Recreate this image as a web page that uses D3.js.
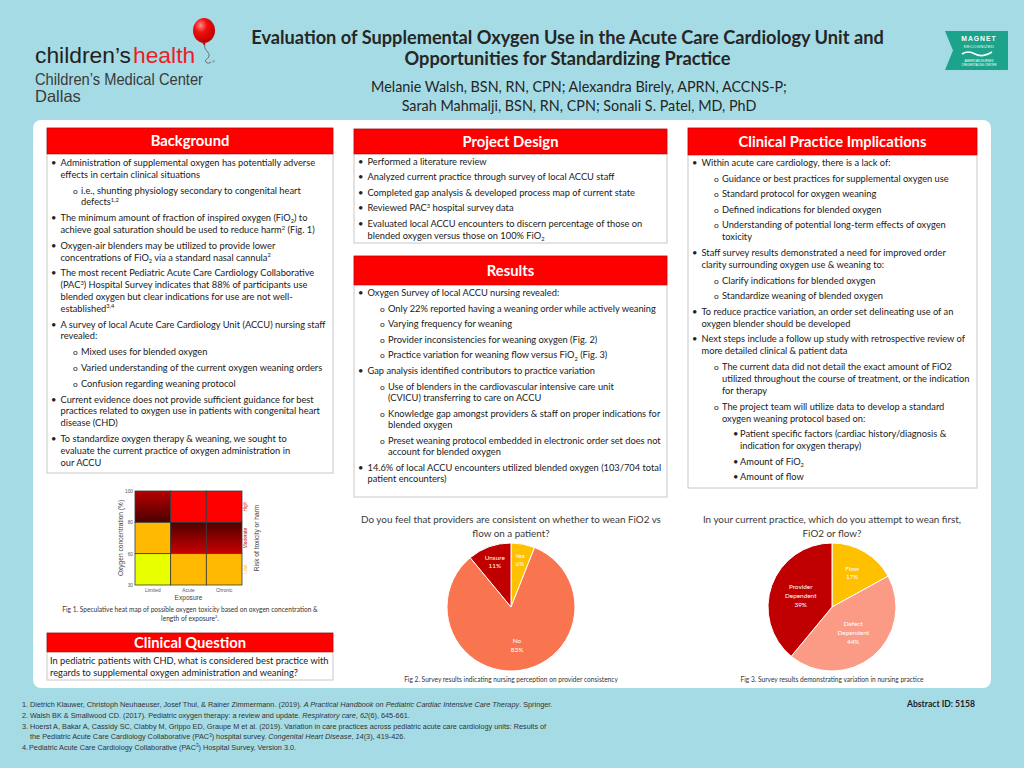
<!DOCTYPE html>
<html><head><meta charset="utf-8">
<script src="https://cdn.jsdelivr.net/npm/d3@7"></script>
<style>body{margin:0;background:#a5dbe5}svg{display:block}</style>
</head><body>
<svg id="c" width="1024" height="768"></svg>
<script>
// ---------------- DATA ----------------
const titleLines = ["Evaluation of Supplemental Oxygen Use in the Acute Care Cardiology Unit and",
                    "Opportunities for Standardizing Practice"];
const authorLines = ["Melanie Walsh, BSN, RN, CPN; Alexandra Birely, APRN, ACCNS-P;",
                     "Sarah Mahmalji, BSN, RN, CPN; Sonali S. Patel, MD, PhD"];

const backgroundItems = [
 [0,"Administration of supplemental oxygen has potentially adverse","effects in certain clinical situations"],
 [1,"i.e., shunting physiology secondary to congenital heart","defects^{1,2}"],
 [0,"The minimum amount of fraction of inspired oxygen (FiO_{2}) to","achieve goal saturation should be used to reduce harm^{2} (Fig. 1)"],
 [0,"Oxygen-air blenders may be utilized to provide lower","concentrations of FiO_{2} via a standard nasal cannula^{2}"],
 [0,"The most recent Pediatric Acute Care Cardiology Collaborative","(PAC^{3}) Hospital Survey indicates that 88% of participants use","blended oxygen but clear indications for use are not well-","established^{3,4}"],
 [0,"A survey of local Acute Care Cardiology Unit (ACCU) nursing staff","revealed:"],
 [1,"Mixed uses for blended oxygen"],
 [1,"Varied understanding of the current oxygen weaning orders"],
 [1,"Confusion regarding weaning protocol"],
 [0,"Current evidence does not provide sufficient guidance for best","practices related to oxygen use in patients with congenital heart","disease (CHD)"],
 [0,"To standardize oxygen therapy & weaning, we sought to","evaluate the current practice of oxygen administration in","our ACCU"]
];
const projectItems = [
 [0,"Performed a literature review"],
 [0,"Analyzed current practice through survey of local ACCU staff"],
 [0,"Completed gap analysis & developed process map of current state"],
 [0,"Reviewed PAC^{3} hospital survey data"],
 [0,"Evaluated local ACCU encounters to discern percentage of those on","blended oxygen versus those on 100% FiO_{2}"]
];
const resultsItems = [
 [0,"Oxygen Survey of local ACCU nursing revealed:"],
 [1,"Only 22% reported having a weaning order while actively weaning"],
 [1,"Varying frequency for weaning"],
 [1,"Provider inconsistencies for weaning oxygen (Fig. 2)"],
 [1,"Practice variation for weaning flow versus FiO_{2} (Fig. 3)"],
 [0,"Gap analysis identified contributors to practice variation"],
 [1,"Use of blenders in the cardiovascular intensive care unit","(CVICU) transferring to care on ACCU"],
 [1,"Knowledge gap amongst providers & staff on proper indications for","blended oxygen"],
 [1,"Preset weaning protocol embedded in electronic order set does not","account for blended oxygen"],
 [0,"14.6% of local ACCU encounters utilized blended oxygen (103/704 total","patient encounters)"]
];
const cpiItems = [
 [0,"Within acute care cardiology, there is a lack of:"],
 [1,"Guidance or best practices for supplemental oxygen use"],
 [1,"Standard protocol for oxygen weaning"],
 [1,"Defined indications for blended oxygen"],
 [1,"Understanding of potential long-term effects of oxygen","toxicity"],
 [0,"Staff survey results demonstrated a need for improved order","clarity surrounding oxygen use & weaning to:"],
 [1,"Clarify indications for blended oxygen"],
 [1,"Standardize weaning of blended oxygen"],
 [0,"To reduce practice variation, an order set delineating use of an","oxygen blender should be developed"],
 [0,"Next steps include a follow up study with retrospective review of","more detailed clinical & patient data"],
 [1,"The current data did not detail the exact amount of FiO2","utilized throughout the course of treatment, or the indication","for therapy"],
 [1,"The project team will utilize data to develop a standard","oxygen weaning protocol based on:"],
 [2,"Patient specific factors (cardiac history/diagnosis &","indication for oxygen therapy)"],
 [2,"Amount of FiO_{2}"],
 [2,"Amount of flow"]
];
const questionLines = ["In pediatric patients with CHD, what is considered best practice with",
                       "regards to supplemental oxygen administration and weaning?"];

// Heat map (Fig 1)
const heatExposure = ["Limited","Acute","Chronic"];
const heatRows = ["80-100","60-80","30-60"];
const heatTicks = ["100","80","60","30"];
const heatRisk = [
  ["modHigh","high","high"],
  ["low","moderate","moderate"],
  ["veryLow","low","low"]
];
const riskLabels = ["High","Moderate","Low"];

// Pie charts
const pie1Title = ["Do you feel that providers are consistent on whether to wean FiO2 vs","flow on a patient?"];
const pie1Labels = ["Yes","No","Unsure"];
const pie1Values = [6,83,11];
const pie2Title = ["In your current practice, which do you attempt to wean first,","FiO2 or flow?"];
const pie2Labels = ["Flow","Defect Dependent","Provider Dependent"];
const pie2Values = [17,44,39];

const captions = {
  fig1: ["Fig 1. Speculative heat map of possible oxygen toxicity based on oxygen concentration &","length of exposure^{2}."],
  fig2: "Fig 2. Survey results indicating nursing perception on provider consistency",
  fig3: "Fig 3. Survey results demonstrating variation in nursing practice"
};
const refs = [
 ["1.","Dietrich Klauwer, Christoph Neuhaeuser, Josef Thul, & Rainer Zimmermann. (2019). *A Practical Handbook on Pediatric Cardiac Intensive Care Therapy*. Springer."],
 ["2.","Walsh BK & Smallwood CD. (2017). Pediatric oxygen therapy: a review and update. *Respiratory care*, *62*(6), 645-661."],
 ["3.","Hoerst A, Bakar A, Cassidy SC, Clabby M, Grippo ED, Graupe M et al. (2019). Variation in care practices across pediatric acute care cardiology units: Results of"],
 ["","the Pediatric Acute Care Cardiology Collaborative (PAC^{3}) hospital survey. *Congenital Heart Disease*, *14*(3), 419-426."],
 ["4.","Pediatric Acute Care Cardiology Collaborative (PAC^{3}) Hospital Survey, Version 3.0."]
];

// ---------------- HELPERS ----------------
const svg = d3.select("#c");
const BODY = "Lato, 'Open Sans', sans-serif";
const ARIAL = "'Liberation Sans', Arial, sans-serif";
svg.append("rect").attr("width",1024).attr("height",768).attr("fill","#a5dbe5");

function plain(s){ return s.replace(/\^\{([^}]*)\}/g,"$1").replace(/_\{([^}]*)\}/g,"$1").replace(/\*/g,""); }
function fit(str, target, family, weight){
  const t = svg.append("text").attr("font-family",family).attr("font-weight",weight||"normal")
    .attr("font-size",100).text(plain(str));
  const w = t.node().getComputedTextLength(); t.remove();
  return 100*target/w;
}
function rich(textSel, str, size){
  const parts = str.split(/(\^\{[^}]*\}|_\{[^}]*\}|\*[^*]*\*)/).filter(s=>s.length);
  let shift = 0;
  parts.forEach(p=>{
    let target=0, fs=size, content=p, italic=false;
    if(p.startsWith("^{")){ target=-0.38*size; fs=0.62*size; content=p.slice(2,-1); }
    else if(p.startsWith("_{")){ target=0.22*size; fs=0.62*size; content=p.slice(2,-1); }
    else if(p.startsWith("*")){ content=p.slice(1,-1); italic=true; }
    const ts = textSel.append("tspan").attr("dy", target-shift).attr("font-size", fs).text(content);
    if(italic) ts.attr("font-style","italic");
    shift = target;
  });
  return textSel;
}

// ---------------- HEADER ----------------
const logo = svg.append("g");
const brandSize = fit("children’s", 96, ARIAL);
logo.append("text").attr("x",35).attr("y",63).attr("font-family",ARIAL).attr("font-size",brandSize)
  .attr("fill","#231f20").text("children’s");
logo.append("text").attr("x",133).attr("y",63).attr("font-family",ARIAL).attr("font-size",brandSize)
  .attr("fill","#ee1c25").text("health");
logo.append("text").attr("x",212).attr("y",63).attr("font-family",ARIAL).attr("font-size",4).attr("fill","#555").text("®");
const bal = svg.append("defs").append("radialGradient").attr("id","balg").attr("cx","35%").attr("cy","30%").attr("r","70%");
bal.append("stop").attr("offset","0%").attr("stop-color","#ff8a8a");
bal.append("stop").attr("offset","40%").attr("stop-color","#f01010");
bal.append("stop").attr("offset","100%").attr("stop-color","#c00000");
logo.append("path").attr("d","M205,44 C203,50 210,52 209,56 C208,60 204,59 206,62 C207,64 210,63 211,62")
  .attr("fill","none").attr("stroke","#555").attr("stroke-width",0.8);
logo.append("ellipse").attr("cx",204).attr("cy",30.5).attr("rx",11).attr("ry",12.5).attr("fill","url(#balg)");
logo.append("path").attr("d","M202.5,43 L205.5,43 L204,45.5 Z").attr("fill","#c00000");
logo.append("text").attr("x",35).attr("y",85).attr("font-family",ARIAL).attr("font-size",16.5)
  .attr("fill","#3a3a3a").attr("textLength",168).attr("lengthAdjust","spacingAndGlyphs").text("Children’s Medical Center");
logo.append("text").attr("x",35).attr("y",101.5).attr("font-family",ARIAL).attr("font-size",16.5)
  .attr("fill","#3a3a3a").text("Dallas");

const titleSize = fit(titleLines[0], 633, BODY, "bold");
titleLines.forEach((l,i)=>svg.append("text").attr("x",567.5).attr("y",44+i*21).attr("text-anchor","middle")
  .attr("font-family",BODY).attr("font-weight","bold").attr("font-size",titleSize).attr("fill","#262626").text(l));
const authSize = fit(authorLines[0], 416, BODY, "normal");
authorLines.forEach((l,i)=>svg.append("text").attr("x",579).attr("y",91.5+i*19).attr("text-anchor","middle")
  .attr("font-family",BODY).attr("font-size",authSize).attr("fill","#262626").text(l));

// Magnet badge
const mg = svg.append("g");
mg.append("path").attr("d","M945,31 L1008,31 L1008,70 L945,70 L953,50.5 Z").attr("fill","#1ba38c");
mg.append("text").attr("x",979).attr("y",41).attr("text-anchor","middle").attr("font-family",ARIAL)
  .attr("font-weight","bold").attr("font-size",6.8).attr("fill","#fff").attr("letter-spacing",1).text("MAGNET");
mg.append("text").attr("x",979).attr("y",47.5).attr("text-anchor","middle").attr("font-family",ARIAL)
  .attr("font-size",4).attr("fill","#fff").attr("letter-spacing",0.4).text("RECOGNIZED");
mg.append("path").attr("d","M962,54 Q968,50 975,54 T992,52").attr("fill","none").attr("stroke","#fff").attr("stroke-width",1.6);
mg.append("text").attr("x",979).attr("y",61.5).attr("text-anchor","middle").attr("font-family",ARIAL)
  .attr("font-size",3).attr("fill","#fff").text("AMERICAN NURSES");
mg.append("text").attr("x",979).attr("y",65.5).attr("text-anchor","middle").attr("font-family",ARIAL)
  .attr("font-size",2.8).attr("fill","#fff").text("CREDENTIALING CENTER");

// white panel
svg.append("rect").attr("x",33).attr("y",120).attr("width",958).attr("height",568).attr("rx",8).attr("fill","#ffffff");

// ---------------- TEXT BOXES ----------------
const bodySize = (fit(projectItems[4][1], 274, BODY) + fit(backgroundItems[0][1], 256, BODY))/2;
const headSize = fit("Clinical Practice Implications", 188, BODY, "bold");

function drawBox(cfg){
  const g = svg.append("g");
  g.append("rect").attr("x",cfg.x).attr("y",cfg.headY).attr("width",cfg.w).attr("height",cfg.bottom-cfg.headY)
    .attr("fill","#fff").attr("stroke","#c8c8c8").attr("stroke-width",1);
  g.append("rect").attr("x",cfg.x).attr("y",cfg.headY).attr("width",cfg.w).attr("height",cfg.headH)
    .attr("fill","#ff0000").attr("stroke","#b30000").attr("stroke-width",0.6);
  g.append("text").attr("x",cfg.x+cfg.w/2).attr("y",cfg.headY+cfg.headH/2+headSize*0.35)
    .attr("text-anchor","middle").attr("font-family",BODY).attr("font-weight","bold")
    .attr("font-size",headSize).attr("fill","#fff").text(cfg.title);
  if(!cfg.items) return g;
  const bx = [4,26,45], tx = [13.5,34,52], glyph = ["•","o","•"];
  let y = cfg.startY - cfg.itemGap;
  cfg.items.forEach(it=>{
    const lvl = it[0];
    y += cfg.itemGap;
    it.slice(1).forEach((line,j)=>{
      if(j>0) y += cfg.lineGap;
      const base = y + bodySize*0.33;
      if(j===0){
        g.append("text").attr("x",cfg.x+bx[lvl]).attr("y",base).attr("font-family",BODY)
          .attr("font-size", lvl===1 ? bodySize*0.9 : bodySize).attr("fill","#222").text(glyph[lvl]);
      }
      const t = g.append("text").attr("x",cfg.x+tx[lvl]).attr("y",base).attr("font-family",BODY).attr("fill","#1a1a1a");
      rich(t,line,bodySize);
    });
  });
  return g;
}
drawBox({x:47,w:286,headY:128,headH:26,bottom:473,title:"Background",items:backgroundItems,startY:163,itemGap:15.8,lineGap:11.8});
drawBox({x:354,w:313,headY:129,headH:25,bottom:243,title:"Project Design",items:projectItems,startY:162,itemGap:15.4,lineGap:12.5});
drawBox({x:354,w:313,headY:256,headH:29,bottom:497,title:"Results",items:resultsItems,startY:293,itemGap:15.6,lineGap:11.4});
drawBox({x:688,w:289,headY:128,headH:27,bottom:488,title:"Clinical Practice Implications",items:cpiItems,startY:163,itemGap:15.6,lineGap:12});
const cq = drawBox({x:47,w:286,headY:633,headH:19,bottom:680,title:"Clinical Question"});
questionLines.forEach((l,i)=>cq.append("text").attr("x",50).attr("y",661+i*12.3+bodySize*0.33)
  .attr("font-family",BODY).attr("font-size",bodySize).attr("fill","#1a1a1a").text(l));

// ---------------- HEAT MAP ----------------
const defs = svg.append("defs");
function grad(id, c1, c2){
  const gr = defs.append("linearGradient").attr("id",id).attr("x1",0).attr("y1",0).attr("x2",0).attr("y2",1);
  gr.append("stop").attr("offset","0%").attr("stop-color",c1);
  gr.append("stop").attr("offset","100%").attr("stop-color",c2);
}
grad("gModHigh","#b80000","#4a0000");
grad("gModerate","#4f0000","#cc0000");
const riskFill = {high:"#ff0000", modHigh:"url(#gModHigh)", moderate:"url(#gModerate)", low:"#ffb900", veryLow:"#e8ff00"};
const hx = d3.scaleBand().domain(heatExposure).range([135,242]);
const hy = d3.scaleBand().domain(heatRows).range([491,585]);
const hTick = d3.scalePoint().domain(heatTicks).range([491,585]);
const hm = svg.append("g");
heatRows.forEach((r,i)=>heatExposure.forEach((e,j)=>{
  hm.append("rect").attr("x",hx(e)).attr("y",hy(r)).attr("width",hx.bandwidth()).attr("height",hy.bandwidth())
    .attr("fill",riskFill[heatRisk[i][j]]).attr("stroke","#3a3a3a").attr("stroke-width",0.8);
}));
const ax = hm.append("g").attr("transform","translate(0,585)").call(d3.axisBottom(hx).tickSize(0).tickPadding(4));
const ay = hm.append("g").attr("transform","translate(135,0)").call(d3.axisLeft(hTick).tickSize(0).tickPadding(2));
[ax,ay].forEach(a=>{ a.select(".domain").remove(); a.selectAll("text").attr("font-family",ARIAL).attr("font-size",4.8).attr("fill","#555"); });
hm.append("text").attr("transform","translate(123,538) rotate(-90)").attr("text-anchor","middle")
  .attr("font-family",ARIAL).attr("font-size",6.6).attr("fill","#444").text("Oxygen concentration (%)");
hm.append("text").attr("x",188.5).attr("y",600).attr("text-anchor","middle")
  .attr("font-family",ARIAL).attr("font-size",6.6).attr("fill","#444").text("Exposure");
const riskColors = ["#ff2020","#c00000","#ffc000"];
heatRows.forEach((r,i)=>hm.append("text").attr("transform",`translate(247,${hy(r)+hy.bandwidth()/2}) rotate(-90)`)
  .attr("text-anchor","middle").attr("font-family",ARIAL).attr("font-size",4.8).attr("fill",riskColors[i]).text(riskLabels[i]));
hm.append("text").attr("transform","translate(259,538) rotate(-90)").attr("text-anchor","middle")
  .attr("font-family",ARIAL).attr("font-size",6.6).attr("fill","#444").text("Risk of toxicity or harm");
const capSize = fit(captions.fig1[0], 256, BODY);
captions.fig1.forEach((l,i)=>{
  const t = hm.append("text").attr("x",190).attr("y",612+i*8.5).attr("text-anchor","middle")
    .attr("font-family",BODY).attr("fill","#333");
  rich(t,l,capSize);
});

// ---------------- PIES ----------------
function drawPie(cx, cy, r, title, labels, values, colors, labelR, caption){
  const g = svg.append("g");
  const tSize = fit(pie1Title[0], 300, BODY);
  title.forEach((l,i)=>g.append("text").attr("x",cx).attr("y",523+i*13.5).attr("text-anchor","middle")
    .attr("font-family",BODY).attr("font-size",tSize).attr("fill","#3a3a3a").text(l));
  const data = labels.map((l,i)=>({l, v:values[i], c:colors[i], lr:labelR[i]}));
  const arcs = d3.pie().sort(null).value(d=>d.v)(data);
  const arc = d3.arc().innerRadius(0).outerRadius(r);
  const pg = g.append("g").attr("transform",`translate(${cx},${cy})`);
  pg.selectAll("path").data(arcs).join("path").attr("d",arc).attr("fill",d=>d.data.c)
    .attr("stroke","#fff").attr("stroke-width",1);
  arcs.forEach(a=>{
    const la = d3.arc().innerRadius(a.data.lr*r).outerRadius(a.data.lr*r);
    const [lx,ly] = la.centroid(a);
    const lines = a.data.l.split(" ").concat([a.data.v+"%"]);
    lines.forEach((s,i)=>pg.append("text").attr("x",lx).attr("y",ly+(i-(lines.length-1)/2)*8.8+2.2)
      .attr("text-anchor","middle").attr("font-family",BODY).attr("font-size",6.4).attr("fill","#fff").text(s));
  });
  g.append("text").attr("x",cx).attr("y",682).attr("text-anchor","middle").attr("font-family",BODY)
    .attr("font-size",capSize).attr("fill","#333").text(caption);
}
drawPie(511,607,64,pie1Title,pie1Labels,pie1Values,["#ffc000","#f9754f","#c00000"],[0.75,0.6,0.75],captions.fig2);
drawPie(832,607,64,pie2Title,pie2Labels,pie2Values,["#ffc000","#fb9b85","#c00000"],[0.62,0.52,0.52],captions.fig3);

// ---------------- REFERENCES ----------------
const refSize = fit(refs[0][0]+" "+refs[0][1], 530, ARIAL);
refs.forEach((r,i)=>{
  if(r[0]) svg.append("text").attr("x",22).attr("y",707+i*10.8).attr("font-family",ARIAL)
    .attr("font-size",refSize).attr("fill","#333").text(r[0]);
  const t = svg.append("text").attr("x", i===4 ? 29 : 30).attr("y",707+i*10.8).attr("font-family",ARIAL).attr("fill","#333");
  rich(t,r[1],refSize);
});
svg.append("text").attr("x",975).attr("y",707).attr("text-anchor","end").attr("font-family",BODY)
  .attr("font-weight","bold").attr("font-size",8.6).attr("fill","#222").text("Abstract ID: 5158");
</script>
</body></html>
